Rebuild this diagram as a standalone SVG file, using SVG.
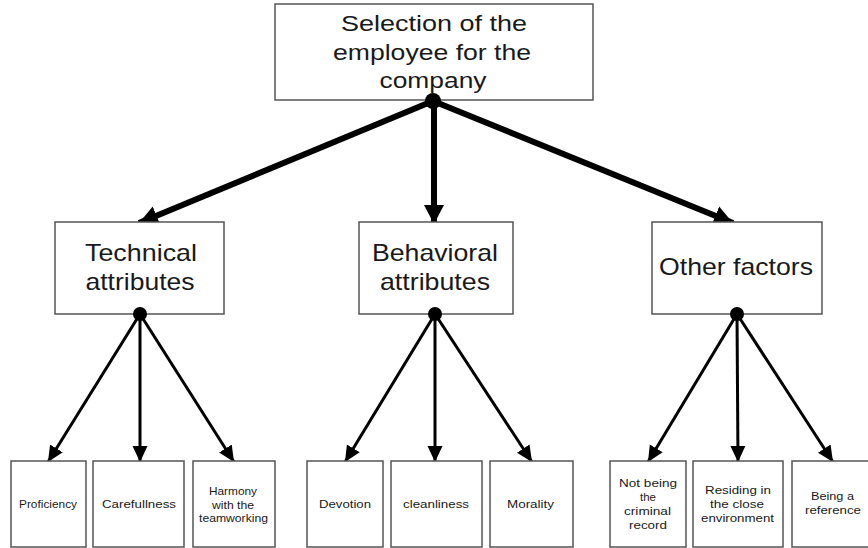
<svg xmlns="http://www.w3.org/2000/svg" width="868" height="548" viewBox="0 0 868 548">
<style>
.box{fill:#fff;stroke:#555;stroke-width:1.5}
text{font-family:"Liberation Sans",Arial,sans-serif;fill:#1a1a1a;text-anchor:middle}
.t1{font-size:22px}
.t2{font-size:24px}
.t3{font-size:11.5px}
.thick{stroke:#000;stroke-width:6;fill:none}
.thin{stroke:#000;stroke-width:3;fill:none}
.dot{fill:#000}
</style>
<defs>
<marker id="ah1" markerUnits="userSpaceOnUse" markerWidth="22" markerHeight="22" viewBox="0 0 22 22" refX="19" refY="11" orient="auto">
<path d="M0,1 L19,11 L0,21 Z" fill="#000"/>
</marker>
<marker id="ah2" markerUnits="userSpaceOnUse" markerWidth="18" markerHeight="18" viewBox="0 0 18 18" refX="16" refY="9" orient="auto">
<path d="M0,1.5 L16,9 L0,16.5 Z" fill="#000"/>
</marker>
</defs>
<rect width="868" height="548" fill="#fff"/>
<g id="connectors">
<line class="thick" x1="433" y1="101" x2="139" y2="223" marker-end="url(#ah1)"/>
<line class="thick" x1="434" y1="101" x2="434" y2="224" marker-end="url(#ah1)"/>
<line class="thick" x1="433" y1="101" x2="733" y2="223" marker-end="url(#ah1)"/>
<line class="thin" x1="140" y1="314" x2="48" y2="462" marker-end="url(#ah2)"/>
<line class="thin" x1="140" y1="314" x2="140" y2="462" marker-end="url(#ah2)"/>
<line class="thin" x1="140" y1="314" x2="234" y2="462" marker-end="url(#ah2)"/>
<line class="thin" x1="435" y1="314" x2="345" y2="462" marker-end="url(#ah2)"/>
<line class="thin" x1="435" y1="314" x2="435" y2="462" marker-end="url(#ah2)"/>
<line class="thin" x1="435" y1="314" x2="532" y2="462" marker-end="url(#ah2)"/>
<line class="thin" x1="737" y1="314" x2="648" y2="462" marker-end="url(#ah2)"/>
<line class="thin" x1="737" y1="314" x2="738" y2="462" marker-end="url(#ah2)"/>
<line class="thin" x1="737" y1="314" x2="833" y2="462" marker-end="url(#ah2)"/>
</g>
<g id="root">
<rect class="box" x="275" y="4" width="318" height="96"/>
<text class="t1" x="434" y="31" textLength="186" lengthAdjust="spacingAndGlyphs">Selection of the</text>
<text class="t1" x="432" y="60" textLength="198" lengthAdjust="spacingAndGlyphs">employee for the</text>
<text class="t1" x="433" y="88" textLength="107" lengthAdjust="spacingAndGlyphs">company</text>
</g>
<g id="technical">
<rect class="box" x="55" y="222" width="169" height="92"/>
<text class="t2" x="141" y="261" textLength="112" lengthAdjust="spacingAndGlyphs">Technical</text>
<text class="t2" x="140" y="290" textLength="109" lengthAdjust="spacingAndGlyphs">attributes</text>
</g>
<g id="behavioral">
<rect class="box" x="359" y="222" width="154" height="92"/>
<text class="t2" x="435" y="261" textLength="126" lengthAdjust="spacingAndGlyphs">Behavioral</text>
<text class="t2" x="435" y="290" textLength="110" lengthAdjust="spacingAndGlyphs">attributes</text>
</g>
<g id="other">
<rect class="box" x="652" y="222" width="170" height="92"/>
<text class="t2" x="736" y="275" textLength="154" lengthAdjust="spacingAndGlyphs">Other factors</text>
</g>
<g id="dots">
<circle class="dot" cx="433" cy="101" r="8"/>
<circle class="dot" cx="140" cy="314" r="7"/>
<circle class="dot" cx="435" cy="314" r="7"/>
<circle class="dot" cx="737" cy="314" r="7"/>
</g>
<g id="proficiency">
<rect class="box" x="11" y="461" width="75" height="86"/>
<text class="t3" x="48" y="508" textLength="58" lengthAdjust="spacingAndGlyphs">Proficiency</text>
</g>
<g id="carefulness">
<rect class="box" x="93" y="461" width="91" height="86"/>
<text class="t3" x="139" y="508" textLength="74" lengthAdjust="spacingAndGlyphs">Carefullness</text>
</g>
<g id="harmony">
<rect class="box" x="193" y="461" width="82" height="86"/>
<text class="t3" x="233" y="495" textLength="48" lengthAdjust="spacingAndGlyphs">Harmony</text>
<text class="t3" x="233" y="509" textLength="42" lengthAdjust="spacingAndGlyphs">with the</text>
<text class="t3" x="233.5" y="522" textLength="69" lengthAdjust="spacingAndGlyphs">teamworking</text>
</g>
<g id="devotion">
<rect class="box" x="307" y="461" width="76" height="86"/>
<text class="t3" x="345" y="508" textLength="52" lengthAdjust="spacingAndGlyphs">Devotion</text>
</g>
<g id="cleanliness">
<rect class="box" x="391" y="461" width="91" height="86"/>
<text class="t3" x="436" y="508" textLength="66" lengthAdjust="spacingAndGlyphs">cleanliness</text>
</g>
<g id="morality">
<rect class="box" x="490" y="461" width="83" height="86"/>
<text class="t3" x="530.5" y="508" textLength="47" lengthAdjust="spacingAndGlyphs">Morality</text>
</g>
<g id="criminal">
<rect class="box" x="610" y="461" width="76" height="86"/>
<text class="t3" x="648" y="487" textLength="58" lengthAdjust="spacingAndGlyphs">Not being</text>
<text class="t3" x="648" y="501">the</text>
<text class="t3" x="647.5" y="515" textLength="47" lengthAdjust="spacingAndGlyphs">criminal</text>
<text class="t3" x="648" y="529" textLength="38" lengthAdjust="spacingAndGlyphs">record</text>
</g>
<g id="residing">
<rect class="box" x="693" y="461" width="90" height="86"/>
<text class="t3" x="738" y="494" textLength="66" lengthAdjust="spacingAndGlyphs">Residing in</text>
<text class="t3" x="737" y="508" textLength="54" lengthAdjust="spacingAndGlyphs">the close</text>
<text class="t3" x="737.5" y="522" textLength="73" lengthAdjust="spacingAndGlyphs">environment</text>
</g>
<g id="reference">
<rect class="box" x="792" y="461" width="90" height="86"/>
<text class="t3" x="832.5" y="500" textLength="43" lengthAdjust="spacingAndGlyphs">Being a</text>
<text class="t3" x="833" y="514" textLength="56" lengthAdjust="spacingAndGlyphs">reference</text>
</g>
</svg>
